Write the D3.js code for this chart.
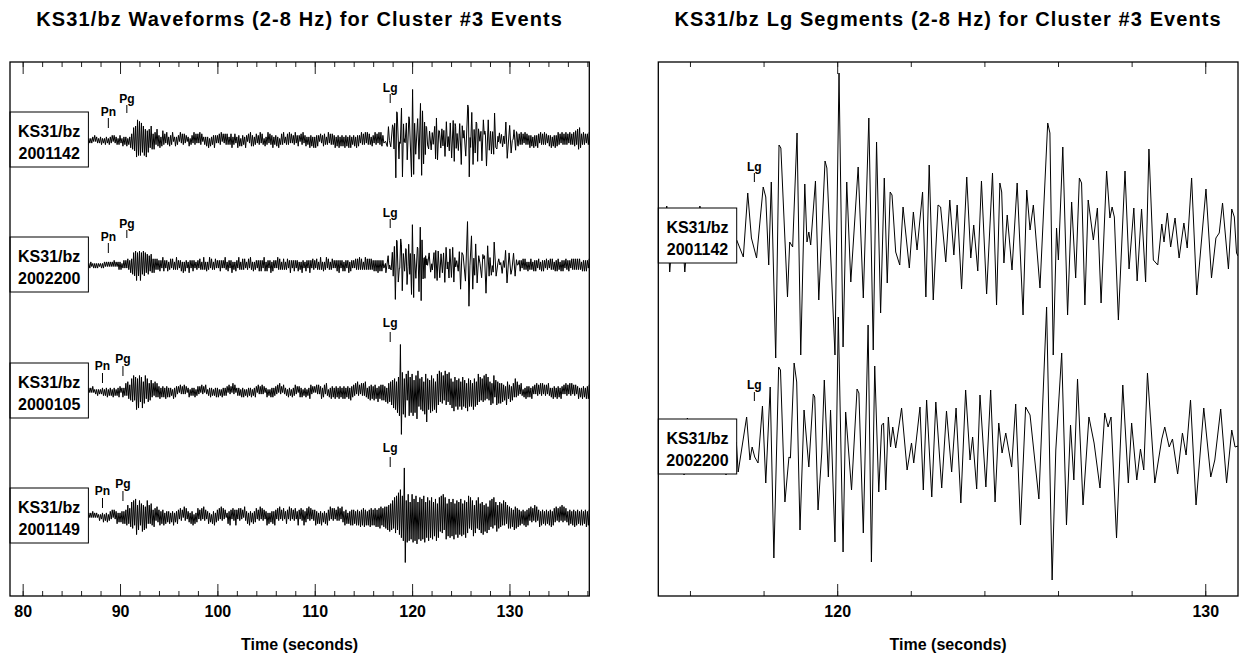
<!DOCTYPE html>
<html>
<head>
<meta charset="utf-8">
<script src="https://d3js.org/d3.v7.min.js"></script>
<title>KS31/bz Waveforms</title>
<style>
  body { margin: 0; background: #fff; font-family: 'Liberation Sans', Arial, sans-serif; }
  svg text { font-weight: bold; fill: #000; }
</style>
</head>
<body>
<script>
// ---- data ----
var station = "KS31/bz";
var events = ["2001142", "2002200", "2000105", "2001149"];
var lgEvents = ["2001142", "2002200"];
var pnTimes = [88.8, 88.8, 88.2, 88.2];
var pgTimes = [90.7, 90.7, 90.3, 90.3];
var lgTime = 117.75;

var leftTickValues = d3.range(80, 139, 2);
var leftTickLabels = [80, 90, 100, 110, 120, 130];
var rightTickValues = d3.range(116, 131, 2);
var rightTickLabels = [120, 130];

// Lg segments (time s, amplitude counts), extrema
var lgTrace1 = [[115.15,10],[115.25,-15],[115.37,30],[115.45,-36],[115.56,15],[115.66,-20],[115.76,20],[115.86,-36],[115.97,15],[116.07,-20],[116.17,12],[116.22,-10],[116.27,30],[116.38,-20],[116.48,18],[116.59,-22],[116.70,15],[116.80,-18],[116.91,12],[117.02,-15],[117.12,10],[117.20,-8],
  [117.27,-4],[117.45,-21],[117.57,43],[117.67,-2],[117.81,-22],[117.99,49],[118.06,39],[118.14,-29],[118.21,54],[118.33,-122],[118.42,91],[118.47,88],[118.65,-61],[118.71,-6],[118.79,-11],[118.91,103],[119.01,-119],[119.12,52],[119.18,-6],[119.23,4],[119.28,-9],[119.41,55],[119.50,-64],[119.67,75],[119.72,68],[119.94,-119],[120.05,163],[120.16,-111],[120.26,54],[120.37,-46],[120.57,69],[120.71,-62],[120.86,118],[120.98,-114],[121.07,94],[121.18,-77],[121.28,58],[121.36,-47],[121.44,44],[121.49,41],[121.59,-16],[121.70,-29],[121.79,29],[121.96,-32],[122.07,24],[122.17,-14],[122.32,44],[122.41,-61],[122.50,71],[122.61,-64],[122.74,31],[122.81,29],[122.95,-26],[123.06,36],[123.17,-19],[123.26,31],[123.38,-53],[123.52,59],[123.63,-22],[123.71,11],[123.82,-35],[123.92,55],[124.06,-58],[124.22,63],[124.33,-69],[124.42,53],[124.47,44],[124.53,-27],[124.62,21],[124.75,-34],[124.89,53],[125.05,-79],[125.15,46],[125.24,6],[125.33,31],[125.51,-52],[125.72,113],[125.78,103],[125.87,-119],[125.96,8],[126.01,-24],[126.13,89],[126.26,-79],[126.37,34],[126.48,-42],[126.58,58],[126.64,53],[126.73,-69],[126.82,36],[126.96,-4],[127.07,28],[127.17,-67],[127.32,65],[127.41,18],[127.47,29],[127.53,19],[127.64,-84],[127.82,65],[127.93,-33],[128.06,28],[128.15,-45],[128.27,27],[128.38,-46],[128.47,87],[128.59,-24],[128.71,-29],[128.82,12],[128.88,-6],[128.97,23],[129.06,-11],[129.18,18],[129.29,-22],[129.42,13],[129.51,-12],[129.63,58],[129.77,-59],[130.02,47],[130.17,-42],[130.29,-2],[130.38,3],[130.47,33],[130.63,-33],[130.72,27],[130.79,19],[130.85,-17],[130.89,-20]];

var lgTrace2 = [[115.15,10],[115.25,-12],[115.35,15],[115.45,-10],[115.55,12],[115.65,-15],[115.75,10],[115.84,-28],[115.93,29],[116.03,-12],[116.13,14],[116.23,-10],[116.33,12],[116.43,-15],[116.53,10],[116.63,-12],[116.73,14],[116.83,-10],[116.90,10],[116.98,-28],[117.08,12],[117.18,-10],[117.26,5],
  [117.31,-25],[117.54,30],[117.63,-13],[117.69,0],[117.76,-10],[117.85,-16],[117.97,41],[118.06,-36],[118.18,60],[118.28,-111],[118.41,80],[118.46,77],[118.58,-55],[118.69,-10],[118.73,-11],[118.83,84],[118.90,65],[118.99,-83],[119.10,37],[119.23,-20],[119.35,53],[119.39,50],[119.48,-63],[119.58,-6],[119.65,67],[119.76,-30],[119.82,37],[119.94,-95],[120.03,130],[120.16,-105],[120.23,35],[120.39,-43],[120.54,58],[120.59,54],[120.71,-86],[120.84,122],[120.93,-115],[121.02,81],[121.13,-45],[121.21,22],[121.26,24],[121.32,-43],[121.39,30],[121.45,0],[121.51,20],[121.59,-1],[121.75,39],[121.90,-23],[122.02,4],[122.08,-16],[122.25,40],[122.34,-43],[122.43,47],[122.57,-50],[122.68,45],[122.84,-41],[122.97,36],[123.11,-25],[123.23,39],[123.36,-56],[123.49,57],[123.61,-13],[123.68,10],[123.79,-42],[123.88,52],[124.04,-40],[124.17,57],[124.29,-55],[124.39,24],[124.48,-6],[124.58,14],[124.74,-20],[124.85,43],[124.98,-78],[125.12,40],[125.24,32],[125.48,-52],[125.69,140],[125.84,-133],[125.94,-3],[126.10,94],[126.23,-78],[126.34,22],[126.43,-33],[126.53,68],[126.68,-58],[126.84,30],[126.98,4],[127.14,-41],[127.27,34],[127.36,20],[127.44,30],[127.59,-91],[127.76,62],[127.91,-36],[128.00,24],[128.14,-33],[128.24,-2],[128.33,-23],[128.43,74],[128.63,-36],[128.82,8],[128.90,20],[129.02,0],[129.11,8],[129.25,-27],[129.38,14],[129.48,-8],[129.60,47],[129.75,-58],[129.96,39],[130.15,-30],[130.26,-13],[130.42,38],[130.58,-36],[130.72,17],[130.81,0],[130.89,1]];

// full-window traces: one string per second, 10 half-cycle peaks each (base-36 digit x 5 counts, sign alternating)
var wave1Pre = ["2131221312","1221312212","2312132213","2231322313","3214232413","2546879bda","cab89a7b68","7596465374","3524634253","2433512423","3152434231","2413325342","4253412324","2514233532","3243514243","4323452342","2534143325","3142543423","4233524314","2352433523","3425134352","2343524233","5234314352","3423253425","2534314234","4323524343","3524352434","2534253523","3425343253","4352534324","3253425354","32"];
var wave1Post = ["4353425343","3534253435","4253435342","3435243534","5342534353","4253435463","7685435342","4353"];
var wave2Pre = ["1211212112","2112121211","1212212121","2121312123","2312323243","3546879a87","9a86978576","6475454343","3432543234","2342432353","3234252432","2532343223","3243235324","2352432342","3234323253","2432352324","3253234342","2342532423","3234343254","2432352432","3253432343","2342353234","3234232532","2432353243","3243235324","2352432342","3234353234","2432352432","3243435343","2353434343","3434353434","32"];
var wave2Post = ["3432434324","2343243432","4324343243","3243432434","4324343243","3432434343","4343243434","3243"];
var wave3 = ["1211312121","2131121312","1223132413","2314231324","3124235365","4687a69c8b","a79b68a587","5674536454","3524342534","2423152432","3142324231","2413232413","3231423142","1324231324","2413142323","3142315241","2323142413","1423241324","3142324231","2413142423","3241523142","2314231423","4231342413","2413254231","3142423524","4253142534","2534253425","3524352634","4352634253","5364253645","3645273546","4637285769","7b8c6e9gus","cf8hb6dg9e","bg7eaida8c","9d6fbk8c7e","ad8c6eb9d7","c8a6d9b7c9","8b6d9a7c8a","6c9a7b5d8a","7a5c8a69b7","9687a6b596","6958a47968","5857463965","4736548463","4253142534","3425324253","4253524342","5324253425","3425324253","4253524342","3524253425","3545"];
var wave4 = ["1212113121","2131212113","1224132413","3241423524","2435354675","5798a6bc79","a68a7968a5","7586475364","4635462534","3524362435","4253416352","3425361524","5243526342","3524153624","4352635241","2536425346","4253524163","3526342534","5243625342","3625243536","4253624352","3542635243","5236425346","3452635243","4635253624","3526436253","5243635264","3645253646","4536463746","5746364756","4657475866","5768697a89","a8cbd9fche","dgvuaheg9f","ehbgdi9fcg","bfdh9ecgae","cf9dbg8eca","dbe9cf8dbe","9dbf8cae9c","bd8cae9bd8","c9ad7ba8c9","8b9c7a8b69","a7b8c69a78","9786a69578","6857496857","4635463746","5364537463","4736453645","3647365463","5463746354","3645364736","4536463547","3645"];

function decode(chunks, start) {
  var pts = [];
  chunks.forEach(function(c, i) {
    c.split("").forEach(function(ch, j) {
      pts.push([start + i + j / 10, parseInt(ch, 36) * 5 * (j % 2 ? -1 : 1)]);
    });
  });
  return pts;
}

function lgPart(tr) { return tr.filter(function(d){ return d[0] >= 117.25; }); }

var leftWaves = [
  decode(wave1Pre, 86).filter(function(d){ return d[0] < 117.25; }).concat(lgPart(lgTrace1), decode(wave1Post, 131)),
  decode(wave2Pre, 86).filter(function(d){ return d[0] < 117.25; }).concat(lgPart(lgTrace2), decode(wave2Post, 131)),
  decode(wave3, 86),
  decode(wave4, 86)
];
var rightWaves = [lgTrace1, lgTrace2];

// ---- layout ----
var W = 1244, H = 659,
    plotTop = 62, plotBottom = 596;
var leftBase = [140, 265, 391, 516];
var rightBase = [236, 447];

var svg = d3.select("body").append("svg")
  .attr("width", W)
  .attr("height", H);

var xL = d3.scaleLinear().domain([78.7, 138.2]).range([10, 589.3]);
var xR = d3.scaleLinear().domain([115.14, 130.89]).range([658.3, 1238]);
var yL = d3.scaleLinear().domain([-200, 200]).range([62, -62]);
var yR = d3.scaleLinear().domain([-200, 200]).range([200, -200]);

function panel(x, y, waves, bases, names, minor, major, title, id, marks) {
  var x0 = x.range()[0], x1 = x.range()[1];
  var g = svg.append("g");

  svg.append("clipPath").attr("id", id)
    .append("rect").attr("x", x0).attr("y", plotTop).attr("width", x1 - x0).attr("height", plotBottom - plotTop);

  // axes, ticks inward top and bottom
  var aMinB = d3.axisBottom(x).tickValues(minor).tickSize(-5).tickFormat("");
  var aMajB = d3.axisBottom(x).tickValues(major).tickSize(-12).tickPadding(10).tickFormat(d3.format("d"));
  var aMinT = d3.axisTop(x).tickValues(minor).tickSize(-5).tickFormat("");
  var aMajT = d3.axisTop(x).tickValues(major).tickSize(-12).tickFormat("");
  [[aMinB, plotBottom], [aMajB, plotBottom], [aMinT, plotTop], [aMajT, plotTop]].forEach(function(a) {
    var ag = g.append("g").attr("transform", "translate(0," + a[1] + ")").call(a[0]);
    ag.select(".domain").remove();
    ag.selectAll("line").attr("stroke", "#222").attr("stroke-width", 1);
    ag.selectAll("text").attr("font-size", 16).attr("font-family", "Liberation Sans, Arial, sans-serif");
  });

  // traces
  var line = d3.line().x(function(d){ return x(d[0]); }).y(function(d){ return y(d[1]); });
  var tg = g.append("g").attr("clip-path", "url(#" + id + ")");
  waves.forEach(function(w, i) {
    tg.append("path")
      .attr("d", line(w))
      .attr("transform", "translate(0," + bases[i] + ")")
      .attr("fill", "none")
      .attr("stroke", "#000")
      .attr("stroke-width", 1);
  });

  // phase marks
  marks.forEach(function(m) {
    m.rows.forEach(function(r, i) {
      var b = bases[i], px = x(m.t[i]);
      g.append("line").attr("x1", px).attr("x2", px)
        .attr("y1", b + r[1]).attr("y2", b + r[2])
        .attr("stroke", "#000").attr("stroke-width", 1);
      g.append("text").attr("x", px).attr("y", b + r[0])
        .attr("text-anchor", "middle").attr("font-size", 12).text(m.name);
    });
  });

  // station boxes
  bases.forEach(function(b, i) {
    g.append("rect").attr("x", x0).attr("y", b - 28).attr("width", 78.4).attr("height", 55)
      .attr("fill", "#fff").attr("stroke", "#000").attr("stroke-width", 1);
    g.append("text").attr("x", x0 + 39.2).attr("y", b - 3).attr("text-anchor", "middle")
      .attr("font-size", 16).text(station);
    g.append("text").attr("x", x0 + 39.2).attr("y", b + 19).attr("text-anchor", "middle")
      .attr("font-size", 16).text(names[i]);
  });

  // frame
  g.append("rect").attr("x", x0).attr("y", plotTop).attr("width", x1 - x0).attr("height", plotBottom - plotTop)
    .attr("fill", "none").attr("stroke", "#000").attr("stroke-width", 1.3);

  g.append("text").attr("x", (x0 + x1) / 2).attr("y", 26).attr("text-anchor", "middle")
    .attr("font-size", 20).attr("letter-spacing", 1.1).text(title);
  g.append("text").attr("x", (x0 + x1) / 2).attr("y", 650).attr("text-anchor", "middle")
    .attr("font-size", 16).text("Time (seconds)");
}

// label offsets per trace: [text baseline, tick top, tick bottom] relative to trace baseline
panel(xL, yL, leftWaves, leftBase, events, leftTickValues, leftTickLabels,
  "KS31/bz Waveforms (2-8 Hz) for Cluster #3 Events", "clipL",
  [
    {name: "Pn", t: pnTimes, rows: [[-24, -22, -12], [-24, -22, -12], [-21, -18, -8], [-21, -18, -8]]},
    {name: "Pg", t: pgTimes, rows: [[-37, -35, -27], [-37, -35, -27], [-28, -25, -15], [-28, -25, -15]]},
    {name: "Lg", t: [lgTime, lgTime, lgTime, lgTime], rows: [[-48, -46, -37], [-48, -46, -37], [-64, -59, -49], [-64, -59, -49]]}
  ]);

panel(xR, yR, rightWaves, rightBase, lgEvents, rightTickValues, rightTickLabels,
  "KS31/bz Lg Segments (2-8 Hz) for Cluster #3 Events", "clipR",
  [
    {name: "Lg", t: [lgTime, lgTime], rows: [[-65, -63, -54], [-58, -55, -46]]}
  ]);
</script>
</body>
</html>
